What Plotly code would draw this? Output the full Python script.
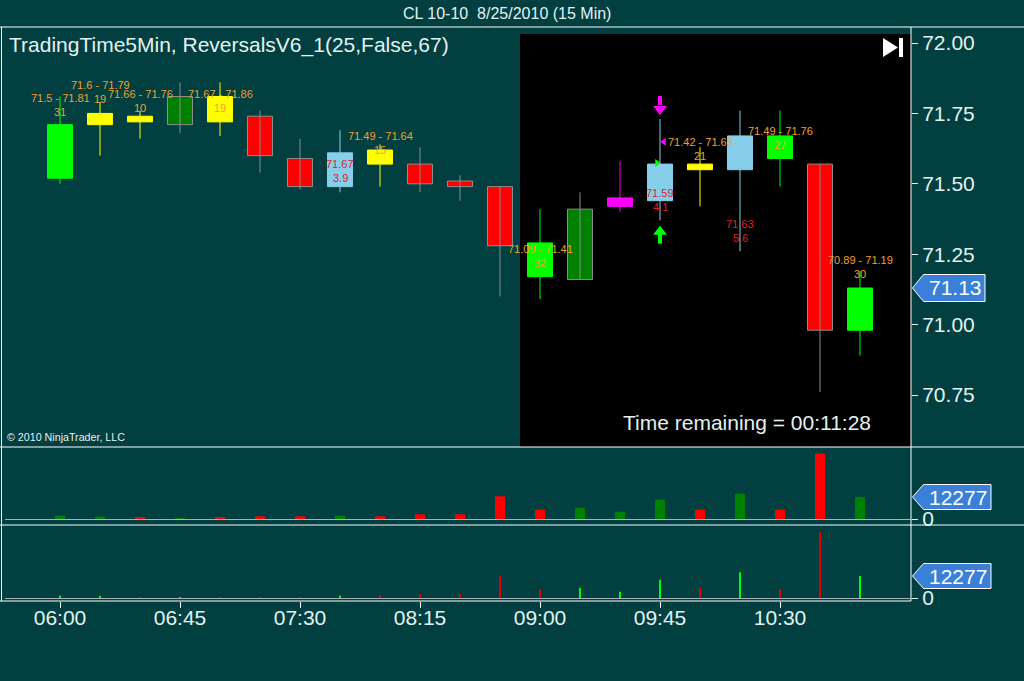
import plotly.graph_objects as go
from datetime import datetime, timedelta

# ---------------- data ----------------
date = "2010-08-25"
times = ["06:00", "06:15", "06:30", "06:45", "07:00", "07:15", "07:30", "07:45",
         "08:00", "08:15", "08:30", "08:45", "09:00", "09:15", "09:30", "09:45",
         "10:00", "10:15", "10:30", "10:45", "11:00"]
open_ = [71.52, 71.71, 71.74, 71.71, 71.81, 71.74, 71.59, 71.49, 71.62, 71.57, 71.51,
         71.49, 71.29, 71.16, 71.42, 71.44, 71.57, 71.55, 71.67, 71.57, 70.98]
high = [71.81, 71.79, 71.76, 71.86, 71.86, 71.76, 71.66, 71.69, 71.64, 71.63, 71.53,
        71.49, 71.41, 71.47, 71.58, 71.73, 71.63, 71.76, 71.76, 71.57, 71.19]
low = [71.50, 71.60, 71.66, 71.68, 71.67, 71.54, 71.48, 71.47, 71.49, 71.47, 71.44,
       71.10, 71.09, 71.16, 71.40, 71.37, 71.42, 71.26, 71.49, 70.76, 70.89]
close = [71.71, 71.75, 71.72, 71.81, 71.72, 71.60, 71.49, 71.61, 71.57, 71.50, 71.49,
         71.28, 71.17, 71.41, 71.45, 71.57, 71.55, 71.67, 71.59, 70.98, 71.13]
bar_paint = ["lime", "yellow", "yellow", "darkgreen", "yellow", "red", "red", "skyblue",
             "yellow", "red", "red", "red", "lime", "darkgreen", "magenta", "skyblue",
             "yellow", "skyblue", "lime", "red", "lime"]
volume = [1860, 1300, 750, 560, 750, 1490, 1490, 1860, 1490, 2600, 2600, 12650, 5200,
          6330, 4100, 10790, 5200, 14150, 5200, 36500, 12277]
volume2 = [1300, 700, 100, 100, 100, 300, 300, 1300, 1700, 2200, 2200, 12100, 4650,
           5750, 3500, 10200, 5600, 14300, 4850, 36800, 12277]

# indicator labels: (bar index, first line, second line, price level)
range_labels = [
    (0, "71.5 - 71.81", "31", 71.805),
    (1, "71.6 - 71.79", "19", 71.851),
    (2, "71.66 - 71.76", "10", 71.819),
    (4, "71.67 - 71.86", "19", 71.819),
    (8, "71.49 - 71.64", "15", 71.670),
    (12, "71.09 - 71.41", "32", 71.268),
    (16, "71.42 - 71.63", "21", 71.648),
    (18, "71.49 - 71.76", "27", 71.688),
    (20, "70.89 - 71.19", "30", 71.229),
]
reversal_labels = [
    (7, "71.67", "3.9", 71.570),
    (15, "71.59", "4.1", 71.467),
    (17, "71.63", "5.6", 71.357),
]
signal_bar = 15
signal_down_price = 71.78
signal_up_price = 71.33
signal_tri_short = 71.649
signal_tri_long = 71.574
session_start = "08:52:30"
price_ticks = [70.75, 71.00, 71.25, 71.50, 71.75, 72.00]
x_ticks = ["06:00", "06:45", "07:30", "08:15", "09:00", "09:45", "10:30"]
time_remaining = "00:11:28"

# ---------------- styling ----------------
W, H = 1024, 681
BG = "#013f40"
FG = "#e2f2f2"
FONT = "Liberation Sans, Arial, sans-serif"
ORANGE = "#f0a030"
RED_TXT = "#e0202a"
BLUE = "#3a80d8"
GRAY = "#8c8c8c"
palette = {"lime": "#00ff00", "yellow": "#ffff00", "darkgreen": "#008000",
           "red": "#ff0000", "skyblue": "#87ceeb", "magenta": "#ff00ff"}

def ts(t):
    return f"{date} {t}:00" if len(t) == 5 else f"{date} {t}"

X = [ts(t) for t in times]

# axis geometry (pixels)
px_left, px_right = 5, 911
price_top_px, price_bot_px = 27, 447
vol1_top_px, vol1_bot_px = 447, 525
vol2_top_px, vol2_bot_px = 525, 601
ppx = 281.6          # pixels per price unit
vpx = 12277 / 22.0   # volume units per pixel

def py(p):  # paper y from pixel
    return (H - p) / H

def pxx(p):
    return p / W

t0 = datetime(2010, 8, 25, 6, 0)
ms_per_px = 15 * 60 * 1000 / 40.0
x_start = t0 - timedelta(milliseconds=55 * ms_per_px)
x_end = t0 + timedelta(milliseconds=(px_right - 60) * ms_per_px)

price_range = [70.75 - (price_bot_px - 395) / ppx, 72.00 + (43 - price_top_px) / ppx]
vol1_range = [-(vol1_bot_px - 519) * vpx, (519 - vol1_top_px) * vpx]
vol2_range = [-(vol2_bot_px - 598) * vpx, (598 - vol2_top_px) * vpx]

fig = go.Figure()

# wicks grouped by colour
wick_col = [GRAY if c in ("red", "darkgreen") else palette[c] for c in bar_paint]
for col in sorted(set(wick_col)):
    xs, ys = [], []
    for i in range(len(X)):
        if wick_col[i] == col:
            xs += [X[i], X[i], None]
            ys += [low[i], high[i], None]
    fig.add_trace(go.Scatter(x=xs, y=ys, mode="lines", line=dict(color=col, width=1),
                             hoverinfo="skip", showlegend=False, xaxis="x", yaxis="y"))

# bodies
body_base = [min(o, c) for o, c in zip(open_, close)]
body_h = [max(abs(c - o), 0.004) for o, c in zip(open_, close)]
body_col = [palette[c] for c in bar_paint]
body_line = [GRAY if c in ("red", "darkgreen") else palette[c] for c in bar_paint]
fig.add_trace(go.Bar(x=X, y=body_h, base=body_base, width=25 * ms_per_px,
                     marker=dict(color=body_col, line=dict(color=body_line, width=1)),
                     showlegend=False, xaxis="x", yaxis="y", hoverinfo="skip"))

# signals
sx = datetime.strptime(X[signal_bar], "%Y-%m-%d %H:%M:%S")
sxs = X[signal_bar]
fig.add_trace(go.Scatter(x=[sxs, sxs], y=[signal_down_price + 9 / ppx, signal_down_price],
                         mode="lines", line=dict(color="#ff00ff", width=4),
                         showlegend=False, hoverinfo="skip", xaxis="x", yaxis="y"))
fig.add_trace(go.Scatter(x=[sxs], y=[signal_down_price - 4 / ppx], mode="markers",
                         marker=dict(symbol="triangle-down", size=12, color="#ff00ff"),
                         showlegend=False, hoverinfo="skip", xaxis="x", yaxis="y"))
fig.add_trace(go.Scatter(x=[sxs, sxs], y=[signal_up_price - 12 / ppx, signal_up_price - 2 / ppx],
                         mode="lines", line=dict(color="#00ff00", width=4),
                         showlegend=False, hoverinfo="skip", xaxis="x", yaxis="y"))
fig.add_trace(go.Scatter(x=[sxs], y=[signal_up_price], mode="markers",
                         marker=dict(symbol="triangle-up", size=12, color="#00ff00"),
                         showlegend=False, hoverinfo="skip", xaxis="x", yaxis="y"))
fig.add_trace(go.Scatter(x=[sx + timedelta(milliseconds=4 * ms_per_px)], y=[signal_tri_short],
                         mode="markers", marker=dict(symbol="triangle-left", size=7, color="#ff00ff"),
                         showlegend=False, hoverinfo="skip", xaxis="x", yaxis="y"))
fig.add_trace(go.Scatter(x=[sx - timedelta(milliseconds=3 * ms_per_px)], y=[signal_tri_long],
                         mode="markers", marker=dict(symbol="triangle-right", size=7, color="#00ff00"),
                         showlegend=False, hoverinfo="skip", xaxis="x", yaxis="y"))

# volume panels
vcol = ["#008000" if c >= o else "#ff0000" for o, c in zip(open_, close)]
vcol2 = ["#00ff00" if c >= o else "#e00000" for o, c in zip(open_, close)]
fig.add_trace(go.Bar(x=X, y=volume, width=10 * ms_per_px, marker=dict(color=vcol, line=dict(width=0)),
                     showlegend=False, xaxis="x2", yaxis="y2", hoverinfo="skip"))
fig.add_trace(go.Bar(x=X, y=volume2, width=2 * ms_per_px, marker=dict(color=vcol2, line=dict(width=0)),
                     showlegend=False, xaxis="x3", yaxis="y3", hoverinfo="skip"))

annotations = []
def ann(**kw):
    d = dict(showarrow=False, xanchor="center", yanchor="middle")
    d.update(kw)
    annotations.append(d)

for i, a, b, p in range_labels:
    ann(x=X[i], y=p, xref="x", yref="y", text=a, font=dict(size=11, color=ORANGE, family=FONT))
    ann(x=X[i], y=p, xref="x", yref="y", text=b, yshift=-14, font=dict(size=11, color=ORANGE, family=FONT))
for i, a, b, p in reversal_labels:
    ann(x=X[i], y=p, xref="x", yref="y", text=a, font=dict(size=11, color=RED_TXT, family=FONT))
    ann(x=X[i], y=p, xref="x", yref="y", text=b, yshift=-14, font=dict(size=11, color=RED_TXT, family=FONT))

# texts
ann(x=pxx(507), y=py(13), xref="paper", yref="paper",
    text="CL 10-10 \u00a08/25/2010 (15 Min)", font=dict(size=16, color=FG, family=FONT))
ann(x=pxx(7), y=py(45), xref="paper", yref="paper", xanchor="left",
    text="TradingTime5Min, ReversalsV6_1(25,False,67)", font=dict(size=21, color=FG, family=FONT))
ann(x=pxx(5), y=py(437), xref="paper", yref="paper", xanchor="left",
    text="© 2010 NinjaTrader, LLC", font=dict(size=10.7, color=FG, family=FONT))
ann(x=pxx(747), y=py(423), xref="paper", yref="paper",
    text="Time remaining = " + time_remaining, font=dict(size=21, color=FG, family=FONT))

shapes = []
# session shading
shapes.append(dict(type="rect", xref="x", yref="paper", x0=ts(session_start), x1=x_end,
                   y0=py(price_bot_px), y1=py(34), fillcolor="#000000", line=dict(width=0), layer="below"))
# skip-to-end icon
shapes.append(dict(type="path", xref="paper", yref="paper",
                   path=f"M {pxx(883)},{py(38)} L {pxx(898)},{py(47.5)} L {pxx(883)},{py(57)} Z",
                   fillcolor="white", line=dict(width=0)))
shapes.append(dict(type="rect", xref="paper", yref="paper", x0=pxx(899), x1=pxx(903),
                   y0=py(57), y1=py(38), fillcolor="white", line=dict(width=0)))
# frame lines
for y_, x1_ in [(27, 1024), (447, 1024), (525, 1024), (601, 911)]:
    shapes.append(dict(type="line", xref="paper", yref="paper", x0=0, x1=pxx(x1_),
                       y0=py(y_), y1=py(y_), line=dict(color="white", width=1)))
for x_ in [1.5, 911]:
    shapes.append(dict(type="line", xref="paper", yref="paper", x0=pxx(x_), x1=pxx(x_),
                       y0=py(27), y1=py(601), line=dict(color="white", width=1)))

# value markers on the right axis
def marker_tag(yref, value, half, label, right_px):
    tip, corner = 912.5, 923.5
    shapes.append(dict(type="path", xref="paper", yref=yref,
                       path=(f"M {pxx(tip)},{value} L {pxx(corner)},{value + half} "
                             f"L {pxx(right_px)},{value + half} L {pxx(right_px)},{value - half} "
                             f"L {pxx(corner)},{value - half} Z"),
                       fillcolor=BLUE, line=dict(color="white", width=1)))
    ann(x=pxx((corner + right_px) / 2 + 1), y=value, xref="paper", yref=yref,
        text=label, font=dict(size=21, color="white", family=FONT))

marker_tag("y", close[-1], 13.5 / ppx, f"{close[-1]:.2f}", 985)
marker_tag("y2", volume[-1], 12.5 * vpx, f"{volume[-1]}", 991)
marker_tag("y3", volume2[-1], 12.5 * vpx, f"{volume2[-1]}", 991)

xdom = [pxx(px_left), pxx(px_right)]
common_x = dict(type="date", range=[x_start, x_end], domain=xdom, showgrid=False,
                zeroline=False, showline=False, automargin=False)
yax_common = dict(side="right", showgrid=False, showline=False, ticks="outside", ticklen=6,
                  tickcolor=FG, tickfont=dict(size=21, color=FG, family=FONT), fixedrange=True,
                  automargin=False)

fig.update_layout(
    template="none",
    width=W, height=H, margin=dict(l=0, r=0, t=0, b=0, pad=0), autosize=False,
    paper_bgcolor=BG, plot_bgcolor=BG, barmode="overlay", showlegend=False,
    xaxis=dict(**common_x, anchor="y", showticklabels=False, ticks=""),
    xaxis2=dict(**common_x, anchor="y2", matches="x", showticklabels=False, ticks=""),
    xaxis3=dict(**common_x, anchor="y3", matches="x", showticklabels=True, ticks="outside",
                ticklen=6, tickcolor="white", tickvals=[ts(t) for t in x_ticks],
                ticktext=x_ticks, tickfont=dict(size=21, color=FG, family=FONT),
                ticklabelstandoff=-8),
    yaxis=dict(**yax_common, anchor="x", domain=[py(price_bot_px), py(price_top_px)],
               range=price_range, tickvals=price_ticks,
               ticktext=[f"{v:.2f}" for v in price_ticks], zeroline=False),
    yaxis2=dict(**yax_common, anchor="x2", domain=[py(vol1_bot_px), py(vol1_top_px)],
                range=vol1_range, tickvals=[0], ticktext=["0"],
                zeroline=True, zerolinecolor="#a4b4b4", zerolinewidth=1),
    yaxis3=dict(**yax_common, anchor="x3", domain=[py(vol2_bot_px), py(vol2_top_px)],
                range=vol2_range, tickvals=[0], ticktext=["0"],
                zeroline=True, zerolinecolor="#a4b4b4", zerolinewidth=1),
    annotations=annotations, shapes=shapes,
)

fig.write_html("out.html", config={"displayModeBar": False},
               post_script="document.body.style.margin='0';document.body.style.background='" + BG + "';")
